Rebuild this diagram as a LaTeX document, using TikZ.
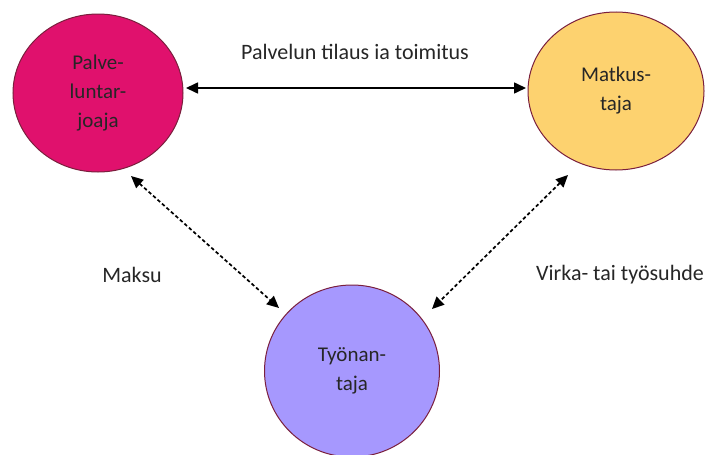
\documentclass[tikz,border=0pt]{standalone}
\usepackage{fontspec}
\setmainfont{Carlito}
\usetikzlibrary{arrows.meta,shapes.geometric}
\definecolor{pinkc}{HTML}{E0116D}
\definecolor{yellowc}{HTML}{FDD26F}
\definecolor{purplec}{HTML}{A698FE}
\definecolor{rimc}{HTML}{7A1F3D}
\tikzset{
  actor/.style={ellipse, draw=rimc, line width=1pt, align=center, inner sep=0pt, font=\fontsize{21}{29}\selectfont, text=black!85},
  lbl/.style={font=\fontsize{22}{26}\selectfont, text=black!85},
  solidlink/.style={line width=1.6pt, {Triangle[length=12pt,width=11pt]}-{Triangle[length=12pt,width=11pt]}},
  dashlink/.style={line width=1.7pt, dash pattern=on 3.5pt off 2.5pt, {Triangle[length=12pt,width=11pt]}-{Triangle[length=12pt,width=11pt]}}
}
\begin{document}
\begin{tikzpicture}[x=1pt,y=-1pt]
\useasboundingbox (0,0) rectangle (707,455);
\node[actor, fill=pinkc, minimum width=170pt, minimum height=158pt] (p) at (98,93) {Palve-\\luntar-\\joaja};
\node[actor, fill=yellowc, minimum width=176pt, minimum height=158pt] (m) at (616,91) {Matkus-\\taja};
\node[actor, fill=purplec, minimum width=175pt, minimum height=172pt] (t) at (352,371) {Työnan-\\taja};
\coordinate (pr) at (186,88);
\coordinate (ml) at (526,88);
\draw[solidlink] (pr) -- (ml);
\node[lbl] (l1) at (355,52) {Palvelun tilaus ia toimitus};
\coordinate (a1) at (131,176);
\coordinate (a2) at (279,308);
\draw[dashlink] (a1) -- (a2);
\coordinate (b1) at (568,175);
\coordinate (b2) at (432,309);
\draw[dashlink] (b1) -- (b2);
\node[lbl] (l2) at (132,275) {Maksu};
\node[lbl] (l3) at (620,275) {Virka- tai työsuhde};
\end{tikzpicture}
\end{document}
